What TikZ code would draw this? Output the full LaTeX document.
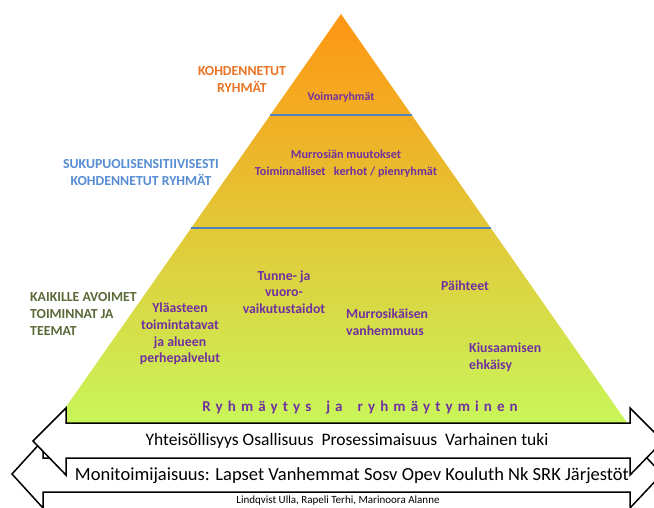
\documentclass[tikz,border=0pt]{standalone}
\usepackage{fontspec}
\setmainfont{Carlito}
\newfontfamily\spacedfont[LetterSpace=34]{Carlito}
\usepackage{xcolor}
\usetikzlibrary{calc}

\definecolor{topor}{RGB}{255,150,18}
\definecolor{midyel}{RGB}{230,208,70}
\definecolor{botgrn}{RGB}{200,246,90}
\definecolor{divblue}{RGB}{79,129,189}
\definecolor{labpurple}{RGB}{112,48,160}
\definecolor{laborange}{RGB}{235,115,35}
\definecolor{labblue}{RGB}{85,140,210}
\definecolor{labgreen}{RGB}{90,105,55}

\begin{document}
\begin{tikzpicture}[x=1pt,y=-1pt,
  lbl/.style={font=\bfseries\fontsize{11.8}{16.7}\selectfont, text=labpurple, align=center, inner sep=0pt},
  biglbl/.style={lbl, font=\bfseries\fontsize{13.8}{16.7}\selectfont},
  side/.style={font=\bfseries\fontsize{13.8}{17}\selectfont, align=center, inner sep=0pt},
  divider/.style={draw=divblue, line width=2pt},
  band/.style={draw=black, line width=1.5pt, fill=white, line join=miter},
  bandtext/.style={font=\fontsize{17.5}{19}\selectfont, inner sep=0pt}]
\clip (0,0) rectangle (654,507);
% pyramid
\coordinate (apex) at (341,14);
\coordinate (bl) at (54,424);
\coordinate (br) at (628,424);
\shade[top color=topor, middle color=midyel, bottom color=botgrn] (apex) -- (br) -- (bl) -- cycle;
\draw[divider] ($(apex)!.246!(bl)$) -- ($(apex)!.246!(br)$);
\draw[divider] ($(apex)!.522!(bl)$) -- ($(apex)!.522!(br)$);

% levels on the left
\node[side, text=laborange] (kohd) at (242,79) {KOHDENNETUT\\RYHMÄT};
\node[side, text=labblue] (suku) at (141,173) {SUKUPUOLISENSITIIVISESTI\\KOHDENNETUT RYHMÄT};
\node[side, text=labgreen, align=left, anchor=west] (kaikki) at (30,314) {KAIKILLE AVOIMET\\TOIMINNAT JA\\TEEMAT};

% contents of the pyramid
\node[lbl] (voima) at (341,97) {Voimaryhmät};
\node[lbl, font=\bfseries\fontsize{12.2}{16.7}\selectfont] (murros) at (346,164) {Murrosiän muutokset\\Toiminnalliset\ \ \ kerhot / pienryhmät};
\node[biglbl] (ylaaste) at (180,334) {Yläasteen\\toimintatavat\\ja alueen\\perhepalvelut};
\node[biglbl] (tunne) at (284,292) {Tunne- ja\\vuoro-\\vaikutustaidot};
\node[biglbl] (paihteet) at (465,286) {Päihteet};
\node[biglbl, align=left, anchor=west] (vanhem) at (346,322) {Murrosikäisen\\vanhemmuus};
\node[biglbl, align=left, anchor=west] (kiusaa) at (469,357) {Kiusaamisen\\ehkäisy};
\node[lbl, font=\spacedfont\bfseries\fontsize{15}{17}\selectfont] (ryhma) at (360,407)
  {Ryhmäytys\hspace{15pt}ja\hspace{15pt}ryhmäytyminen};

% double arrows
\draw[band] (43,458) -- (43,440) -- (12,474) -- (43,508) -- (43,492) -- (630,492)
  -- (630,508) -- (662,474) -- (630,440) -- (630,458) -- cycle;
\draw[band] (66,423) -- (66,408) -- (33,441) -- (66,475) -- (66,458) -- (630,458)
  -- (630,475) -- (663,441) -- (630,408) -- (630,423) -- cycle;
\node[bandtext] (yht) at (347,441) {Yhteisöllisyys Osallisuus\ \ Prosessimaisuus\ \ Varhainen tuki};
\node[bandtext, font=\fontsize{18.5}{20}\selectfont] (moni) at (352,476) {Monitoimijaisuus: Lapset Vanhemmat Sosv Opev Kouluth Nk SRK Järjestöt};
\node[font=\fontsize{11}{12}\selectfont, inner sep=0pt] (tekijat) at (338,500.5) {Lindqvist Ulla, Rapeli Terhi, Marinoora Alanne};
\end{tikzpicture}
\end{document}
